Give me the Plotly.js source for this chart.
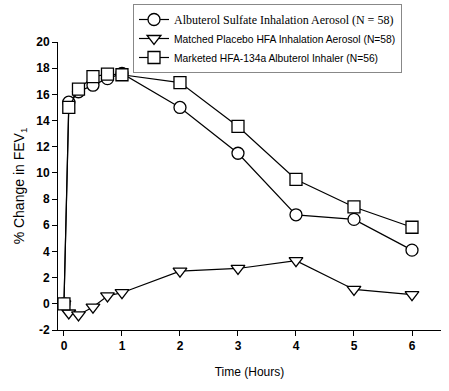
<!DOCTYPE html>
<html><head><meta charset="utf-8">
<script src="https://cdn.plot.ly/plotly-3.0.1.min.js"></script>
<style>body{margin:0;background:#fff}#c{width:449px;height:391px}</style>
</head><body><div id="c"></div>
<script>
const timeHours = [0, 0.083, 0.25, 0.5, 0.75, 1, 2, 3, 4, 5, 6];
const albuterol = [0, 15.4, 16.2, 16.7, 17.2, 17.6, 15.0, 11.5, 6.8, 6.45, 4.1];
const placebo = [0, -0.7, -0.85, -0.25, 0.6, 0.85, 2.5, 2.7, 3.3, 1.1, 0.7];
const marketed = [0, 15.0, 16.4, 17.35, 17.55, 17.5, 16.9, 13.55, 9.5, 7.4, 5.85];
const seriesNames = [
  '<span style="font-family:\'Liberation Serif\',\'Times New Roman\',serif;font-size:12px">Albuterol Sulfate Inhalation Aerosol (N = 58)</span>',
  'Matched Placebo HFA Inhalation Aerosol (N=58)',
  'Marketed HFA-134a Albuterol Inhaler (N=56)'
];
const xTicks = [0, 1, 2, 3, 4, 5, 6];
const yTicks = [-2, 0, 2, 4, 6, 8, 10, 12, 14, 16, 18, 20];

function tr(y, name, sym) {
  return {
    x: timeHours, y: y, name: name, type: 'scatter', mode: 'lines+markers',
    line: {color: '#000', width: 1.2},
    marker: {symbol: sym, size: 12, color: '#fff', line: {color: '#000', width: 1.3}}
  };
}
const data = [
  tr(albuterol, seriesNames[0], 'circle'),
  tr(placebo, seriesNames[1], 'triangle-down'),
  tr(marketed, seriesNames[2], 'square')
];
const layout = {
  width: 449, height: 391,
  margin: {l: 58, r: 8, t: 42, b: 61, autoexpand: false},
  paper_bgcolor: '#fff', plot_bgcolor: '#fff',
  font: {family: 'Liberation Sans, Arial, sans-serif', color: '#000'},
  showlegend: true,
  legend: {
    x: (133 - 58) / 383, y: (330 - 4) / 288, xanchor: 'left', yanchor: 'top',
    bordercolor: '#888', borderwidth: 1, bgcolor: '#fff',
    font: {size: 10.3, family: 'Liberation Sans, Arial, sans-serif', color: '#000'},
    tracegroupgap: 0
  },
  xaxis: {
    range: [-0.103, 6.5], tickvals: xTicks, ticktext: xTicks.map(String),
    showgrid: false, zeroline: false, showline: true, linecolor: '#000', linewidth: 1,
    ticks: 'outside', ticklen: 5, tickcolor: '#000',
    tickfont: {size: 12, family: 'Liberation Sans, Arial, sans-serif', weight: 'bold'},
    title: {text: 'Time (Hours)', font: {size: 12}, standoff: 15}
  },
  yaxis: {
    range: [-2, 20], tickvals: yTicks, ticktext: yTicks.map(String),
    showgrid: false, zeroline: false, showline: true, linecolor: '#000', linewidth: 1,
    ticks: 'outside', ticklen: 5, tickcolor: '#000',
    tickfont: {size: 12, family: 'Liberation Sans, Arial, sans-serif', weight: 'bold'},
    title: {text: '% Change in FEV<sub>1</sub>', font: {size: 14}, standoff: 8}
  }
};
Plotly.newPlot('c', data, layout, {displayModeBar: false, staticPlot: true});
</script></body></html>
